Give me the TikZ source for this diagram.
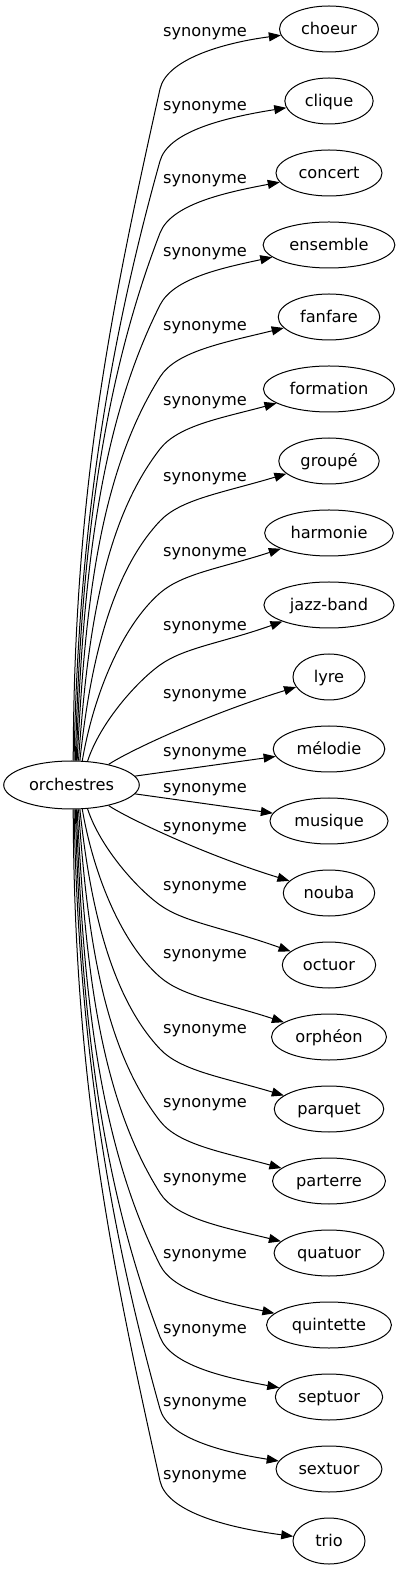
\documentclass[tikz,border=0pt]{standalone}
\usepackage{fontspec}
\setmainfont{DejaVu Sans}
\usetikzlibrary{arrows.meta,shapes.geometric}
\begin{document}
\begin{tikzpicture}[x=1pt,y=1pt,
  every node/.style={font=\fontsize{16.2}{19}\selectfont},
  tnode/.style={draw, ellipse, line width=1pt, minimum width=72pt, minimum height=46pt,
    inner xsep=7pt, inner ysep=2pt, text height=15pt, text depth=3.6pt},
  lbl/.style={anchor=base, inner sep=0pt},
  edge/.style={line width=1pt, -{Triangle[length=12pt,width=9pt]}}]
\useasboundingbox (0,-786) rectangle (400,785);

\node[tnode, minimum width=135pt, minimum height=48pt, inner xsep=5.5pt] (o) at (71.5,0) {orchestres};

\node[tnode] (n1) at (329,756) {choeur};
\node[tnode] (n2) at (329,684) {clique};
\node[tnode] (n3) at (329,612) {concert};
\node[tnode] (n4) at (329,540) {ensemble};
\node[tnode] (n5) at (329,468) {fanfare};
\node[tnode] (n6) at (329,396) {formation};
\node[tnode] (n7) at (329,324) {groupé};
\node[tnode] (n8) at (329,252) {harmonie};
\node[tnode] (n9) at (329,180) {jazz-band};
\node[tnode] (n10) at (329,108) {lyre};
\node[tnode] (n11) at (329,36) {mélodie};
\node[tnode] (n12) at (329,-36) {musique};
\node[tnode] (n13) at (329,-108) {nouba};
\node[tnode] (n14) at (329,-180) {octuor};
\node[tnode] (n15) at (329,-252) {orphéon};
\node[tnode] (n16) at (329,-324) {parquet};
\node[tnode] (n17) at (329,-396) {parterre};
\node[tnode] (n18) at (329,-468) {quatuor};
\node[tnode] (n19) at (329,-540) {quintette};
\node[tnode] (n20) at (329,-612) {septuor};
\node[tnode] (n21) at (329,-684) {sextuor};
\node[tnode] (n22) at (329,-756) {trio};

\node[lbl] (l1) at (205,748) {synonyme};
\node[lbl] (l2) at (205,674) {synonyme};
\node[lbl] (l3) at (205,601) {synonyme};
\node[lbl] (l4) at (205,528) {synonyme};
\node[lbl] (l5) at (205,454) {synonyme};
\node[lbl] (l6) at (205,379) {synonyme};
\node[lbl] (l7) at (205,303) {synonyme};
\node[lbl] (l8) at (205,228) {synonyme};
\node[lbl] (l9) at (205,154) {synonyme};
\node[lbl] (l10) at (205,86) {synonyme};
\node[lbl] (l11) at (205,28) {synonyme};
\node[lbl] (l12) at (205,-8) {synonyme};
\node[lbl] (l13) at (205,-47) {synonyme};
\node[lbl] (l14) at (205,-105) {synonyme};
\node[lbl] (l15) at (205,-173) {synonyme};
\node[lbl] (l16) at (205,-248) {synonyme};
\node[lbl] (l17) at (205,-322) {synonyme};
\node[lbl] (l18) at (205,-397) {synonyme};
\node[lbl] (l19) at (205,-473) {synonyme};
\node[lbl] (l20) at (205,-548) {synonyme};
\node[lbl] (l21) at (205,-621) {synonyme};
\node[lbl] (l22) at (205,-694) {synonyme};

% upward edges
\draw[edge] (o.86.4) .. controls (74,300) and (112,480) .. (160,696) .. controls (166.5,725.3) and (222,742) .. (n1);
\draw[edge] (o.84.1) .. controls (78.3,264) and (111.6,450.7) .. (160,624) .. controls (168.1,652.9) and (222,667) .. (n2);
\draw[edge] (o.81.7) .. controls (80.5,235.2) and (103,404.2) .. (160,552) .. controls (170.8,580) and (222,592) .. (n3);
\draw[edge] (o.79.4) .. controls (82.75,206.4) and (98.6,357.8) .. (160,480) .. controls (173.5,506.8) and (222,517) .. (n4);
\draw[edge] (o.77.1) .. controls (85,177.5) and (98.6,310.5) .. (160,408) .. controls (176,433.4) and (222,442) .. (n5);
\draw[edge] (o.74.8) .. controls (87.25,148.7) and (102.6,262.1) .. (160,336) .. controls (178.4,359.7) and (222,367) .. (n6);
\draw[edge] (o.71.4) .. controls (90,119.9) and (110.5,211.5) .. (160,264) .. controls (180.6,285.8) and (222,292) .. (n7);
\draw[edge] (o.66.1) .. controls (93.75,91) and (122,158.8) .. (160,192) .. controls (182.6,211.7) and (222,217) .. (n8);
\draw[edge] (o.56.4) .. controls (100,62) and (136.4,103.1) .. (160,120) .. controls (184.4,137.5) and (222,142) .. (n9);
\draw[edge] (o.29.9) .. controls (127,33) and (205,70) .. (n10);
\draw[edge] (o) -- (n11);
% downward edges
\draw[edge] (o) -- (n12);
\draw[edge] (o.-29.9) .. controls (127,-33) and (205,-70) .. (n13);
\draw[edge] (o.-56.4) .. controls (100,-62) and (136.4,-103.1) .. (160,-120) .. controls (184.4,-137.5) and (222,-142) .. (n14);
\draw[edge] (o.-66.1) .. controls (93.75,-91) and (122,-158.8) .. (160,-192) .. controls (182.6,-211.7) and (222,-217) .. (n15);
\draw[edge] (o.-71.4) .. controls (90,-119.9) and (110.5,-211.5) .. (160,-264) .. controls (180.6,-285.8) and (222,-292) .. (n16);
\draw[edge] (o.-74.8) .. controls (87.25,-148.7) and (102.6,-262.1) .. (160,-336) .. controls (178.4,-359.7) and (222,-367) .. (n17);
\draw[edge] (o.-77.1) .. controls (85,-177.5) and (98.6,-310.5) .. (160,-408) .. controls (176,-433.4) and (222,-442) .. (n18);
\draw[edge] (o.-79.4) .. controls (82.75,-206.4) and (98.6,-357.8) .. (160,-480) .. controls (173.5,-506.8) and (222,-517) .. (n19);
\draw[edge] (o.-81.7) .. controls (80.5,-235.2) and (103,-404.2) .. (160,-552) .. controls (170.8,-580) and (222,-592) .. (n20);
\draw[edge] (o.-84.1) .. controls (78.3,-264) and (111.6,-450.7) .. (160,-624) .. controls (168.1,-652.9) and (222,-667) .. (n21);
\draw[edge] (o.-86.4) .. controls (74,-300) and (112,-480) .. (160,-696) .. controls (166.5,-725.3) and (222,-742) .. (n22);
\end{tikzpicture}
\end{document}
